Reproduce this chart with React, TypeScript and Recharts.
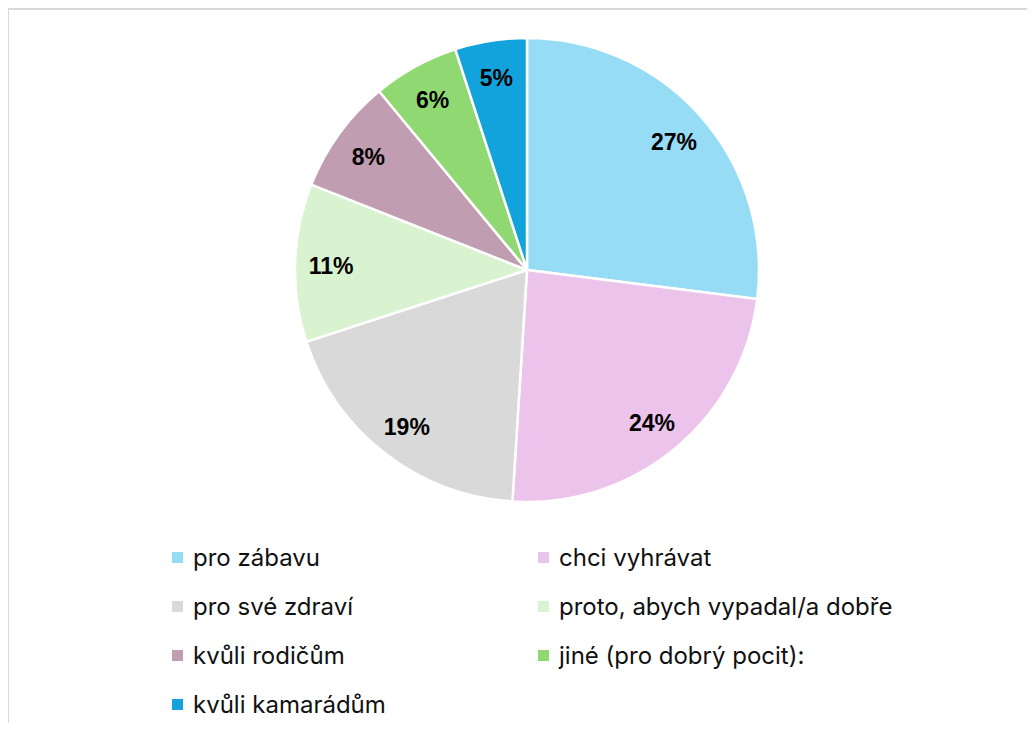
import { Pie, PieChart, Cell, Legend } from "recharts";

// reasons and their shares (%)
const reasons = [
    "pro zábavu",
    "chci vyhrávat",
    "pro své zdraví",
    "proto, abych vypadal/a dobře",
    "kvůli rodičům",
    "jiné (pro dobrý pocit):",
    "kvůli kamarádům",
];
const shares = [27, 24, 19, 11, 8, 6, 5];
const colors = ["#97DCF5", "#ECC3EA", "#D9D9D9", "#D9F2D0", "#C09DB0", "#8FD872", "#12A3DC"];

const data = reasons.map((name, i) => ({ name, value: shares[i] }));

const RADIAN = Math.PI / 180;

function renderLabel(props: any)
{
    const { cx, cy, midAngle, outerRadius, value } = props;
    const r = outerRadius * 0.845;
    const x = cx + r * Math.cos(-midAngle * RADIAN);
    const y = cy + r * Math.sin(-midAngle * RADIAN);
    return (
        <text
            x={x}
            y={y + 2}
            textAnchor="middle"
            dominantBaseline="central"
            fontFamily="'Liberation Sans', Arial, sans-serif"
            fontWeight="bold"
            fontSize={23}
            fill="#000"
        >
            {`${value}%`}
        </text>
    );
}

function LegendBox()
{
    return (
        <div style={{ position: "relative", width: 1035, height: 200 }}>
            {data.map((d, i) => {
                const col = i % 2;
                const row = Math.floor(i / 2);
                return (
                    <div
                        key={d.name}
                        style={{
                            position: "absolute",
                            left: col === 0 ? 172 : 538,
                            top: row * 49,
                            display: "flex",
                            alignItems: "center",
                            height: 30,
                        }}
                    >
                        <span style={{ width: 11, height: 11, background: colors[i], display: "inline-block" }} />
                        <span
                            style={{
                                marginLeft: 10,
                                fontFamily: "Inter, 'Noto Sans', sans-serif",
                                fontSize: 24,
                                color: "#111",
                                whiteSpace: "nowrap",
                            }}
                        >
                            {d.name}
                        </span>
                    </div>
                );
            })}
        </div>
    );
}

export default function App()
{
    return (
        <div style={{ margin: -8, width: 1035, height: 731, position: "relative", overflow: "hidden", background: "#fff" }}>
            <div
                style={{
                    position: "absolute",
                    left: 7,
                    top: 8,
                    width: 1060,
                    height: 760,
                    border: "2px solid #d9d9d9",
                    boxSizing: "border-box",
                }}
            />
            <div style={{ position: "absolute", left: 0, top: 0 }}>
                <PieChart width={1035} height={731} margin={{ top: 0, right: 0, bottom: 0, left: 0 }}>
                    <Pie
                        data={data}
                        dataKey="value"
                        cx={527}
                        cy={270}
                        outerRadius={232}
                        startAngle={90}
                        endAngle={-270}
                        stroke="#fff"
                        strokeWidth={2.5}
                        label={renderLabel}
                        labelLine={false}
                        isAnimationActive={false}
                    >
                        {data.map((d, i) => (
                            <Cell key={d.name} fill={colors[i]} />
                        ))}
                    </Pie>
                    <Legend
                        content={() => <LegendBox />}
                        layout="horizontal"
                        verticalAlign="bottom"
                        wrapperStyle={{ left: 0, top: 542, bottom: "auto", width: 1035 }}
                    />
                </PieChart>
            </div>
        </div>
    );
}
